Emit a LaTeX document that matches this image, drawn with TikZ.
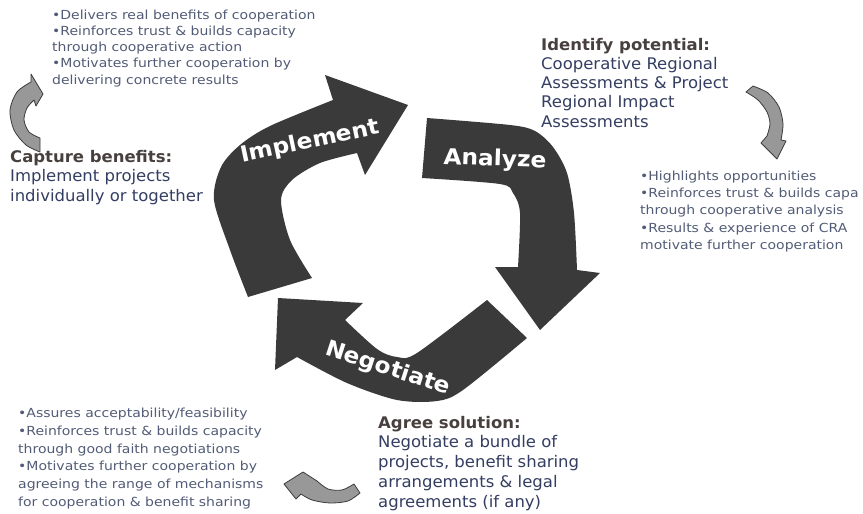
\documentclass[tikz,border=0pt]{standalone}
\usepackage{fontspec}
\setmainfont{DejaVu Sans}
\newfontfamily\bulfont[FakeStretch=1.12]{DejaVu Sans}
\newfontfamily\blockfont[FakeStretch=1.03]{DejaVu Sans}
\newfontfamily\labelfont[FakeStretch=1.06]{DejaVu Sans}
\definecolor{bigc}{RGB}{58,58,58}
\definecolor{smallfill}{RGB}{152,152,152}
\definecolor{smalldraw}{RGB}{60,60,60}
\definecolor{headc}{RGB}{72,64,62}
\definecolor{bodyc}{RGB}{52,62,98}
\definecolor{bulc}{RGB}{82,92,118}
\begin{document}
\begin{tikzpicture}[x=1pt,y=-1pt,
  bigarrow/.style={fill=bigc},
  smallarrow/.style={fill=smallfill,draw=smalldraw,line width=0.8pt,line join=round},
  bullets/.style={anchor=base west,inner sep=0pt,align=left,text=bulc},
  block/.style={anchor=base west,inner sep=0pt,align=left,text=bodyc},
  arrowlabel/.style={text=white,font=\labelfont\fontsize{22}{24}\selectfont\bfseries,inner sep=0pt}]
\path[use as bounding box,clip] (0,0) rectangle (863,514);
\fill[white] (0,0) rectangle (863,514);

% big arrows
\fill[bigarrow] (248,297) -- plot[smooth] coordinates {(248,297) (230,250) (214,200) (221,167) (240,145) (270,126) (333,100)}
  -- (325,75) -- (408,105) -- (365,175) -- (357,153)
  -- plot[smooth] coordinates {(357,153) (320,163) (292,180) (281,200) (290,240) (312,278)} -- cycle;
\fill[bigarrow] (427,118) -- plot[smooth] coordinates {(427,118) (510,125) (535,131) (553,147) (567,173) (574,213) (577,270)}
  -- (600,273) -- (540,330) -- (495,267) -- (518,267)
  -- plot[smooth] coordinates {(518,267) (520,213) (513,193) (500,184) (422,178)} -- cycle;
\fill[bigarrow] (527,338) -- plot[smooth] coordinates {(527,338) (463,390) (437,401) (397,400) (347,383) (297,357)}
  -- (275,370) -- (278,298) -- (363,303) -- (345,320)
  -- plot[smooth] coordinates {(345,320) (377,349) (397,357) (417,353) (487,300)} -- cycle;

\node[arrowlabel,rotate=12] (impl) at (310,142) {Implement};
\node[arrowlabel,rotate=-2] (anal) at (495,160) {Analyze};
\node[arrowlabel,rotate=-18] (nego) at (388,369) {Negotiate};

% small grey arrows
\draw[smallarrow] (40,152) -- plot[smooth] coordinates {(40,152) (26,145) (14,130) (10,110) (17,92) (31,82)}
  -- (31,74) -- (43,94) -- (36,106) -- (34,100)
  -- plot[smooth] coordinates {(34,100) (27,108) (24,120) (29,132) (40,138)} -- cycle;
\draw[smallarrow] (746,92) -- (753,86) -- plot[smooth] coordinates {(753,86) (768,93) (779,107) (783,124) (781,140)}
  -- (786,141) -- (777,159) -- (761,143) -- (767,136)
  -- plot[smooth] coordinates {(767,136) (770,124) (767,112) (758,100) (746,92)} -- cycle;
\draw[smallarrow] (284,484) -- (303,472) -- (317,481)
  -- plot[smooth] coordinates {(317,481) (328,489) (342,490) (354,484)}
  -- (360,493) -- plot[smooth] coordinates {(360,493) (348,501) (330,503) (312,500) (301,494)}
  -- (296,499) -- cycle;

% texts (base anchor = baseline of last line)
\node[bullets,font=\bulfont\fontsize{12.5}{16.3}\selectfont] (tl) at (52,84.2)
  {•Delivers real benefits of cooperation\\•Reinforces trust \& builds capacity\\through cooperative action\\•Motivates further cooperation by\\delivering concrete results};
\node[block,font=\blockfont\fontsize{16}{19.5}\selectfont] (cap) at (10,201)
  {\textcolor{headc}{\bfseries Capture benefits:}\\Implement projects\\individually or together};
\node[block,font=\blockfont\fontsize{16}{19.3}\selectfont] (ident) at (541,127.2)
  {\textcolor{headc}{\bfseries Identify potential:}\\Cooperative Regional\\Assessments \& Project\\Regional Impact\\Assessments};
\node[bullets,font=\bulfont\fontsize{12.5}{17.2}\selectfont] (rb) at (640,249.3)
  {•Highlights opportunities\\•Reinforces trust \& builds capa\\through cooperative analysis\\•Results \& experience of CRA\\motivate further cooperation};
\node[bullets,font=\bulfont\fontsize{12.5}{17.8}\selectfont] (bl) at (18,506.5)
  {•Assures acceptability/feasibility\\•Reinforces trust \& builds capacity\\through good faith negotiations\\•Motivates further cooperation by\\agreeing the range of mechanisms\\for cooperation \& benefit sharing};
\node[block,font=\blockfont\fontsize{16}{19.8}\selectfont] (agree) at (378,507.2)
  {\textcolor{headc}{\bfseries Agree solution:}\\Negotiate a bundle of\\projects, benefit sharing\\arrangements \& legal\\agreements (if any)};
\end{tikzpicture}
\end{document}
